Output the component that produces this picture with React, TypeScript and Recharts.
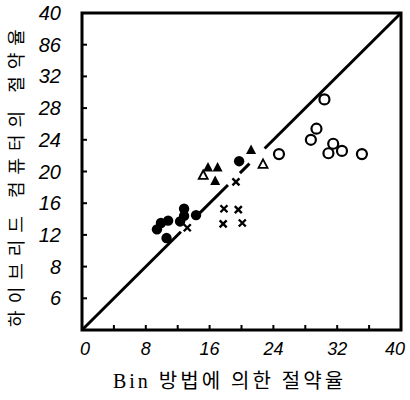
import React from 'react';
import { ScatterChart, Scatter, XAxis, YAxis, ReferenceLine, ReferenceArea, Label } from 'recharts';

const axisTicks = [0, 4, 8, 12, 16, 20, 24, 28, 32, 36, 40];
const xTickLabels: Record<number, string> = { 0: '0', 8: '8', 16: '16', 24: '24', 32: '32', 40: '40' };
const yTickLabels: Record<number, string> = { 4: '6', 8: '8', 12: '12', 16: '16', 20: '20', 24: '24', 28: '28', 32: '32', 36: '86', 40: '40' };

const xTitle = 'Bin 방법에 의한 절약율';
const yTitle = '하이브리드 컴퓨터의 절약율';

const openCircles = [
  { x: 30.4, y: 29.1 }, { x: 29.4, y: 25.4 }, { x: 28.7, y: 24.0 }, { x: 31.5, y: 23.5 },
  { x: 30.9, y: 22.3 }, { x: 32.6, y: 22.6 }, { x: 35.1, y: 22.2 }, { x: 24.7, y: 22.2 },
];
const openTriangles = [{ x: 22.7, y: 20.9 }, { x: 15.2, y: 19.5 }];
const filledTriangles = [
  { x: 21.2, y: 22.7 }, { x: 15.8, y: 20.5 }, { x: 17.0, y: 20.5 }, { x: 16.7, y: 18.8 },
];
const filledCircles = [
  { x: 19.7, y: 21.3 }, { x: 14.3, y: 14.5 }, { x: 12.8, y: 15.3 }, { x: 12.8, y: 14.4 },
  { x: 12.3, y: 13.7 }, { x: 10.8, y: 13.8 }, { x: 9.9, y: 13.5 }, { x: 9.4, y: 12.7 }, { x: 10.6, y: 11.6 },
];
const crosses = [
  { x: 19.3, y: 18.7 }, { x: 17.8, y: 15.3 }, { x: 19.6, y: 15.2 }, { x: 17.7, y: 13.4 },
  { x: 20.1, y: 13.5 }, { x: 13.2, y: 12.9 },
];
// diagonal y = x, drawn in pieces (broken where the markers sit)
const diagonalSegments = [
  [0, 12.4], [14.5, 18.3], [19.8, 21.0], [22.9, 40],
];

const XTick = (props: any) => {
  const { x, y, payload } = props;
  const v = payload.value;
  const label = xTickLabels[v];
  const dx = v === 0 ? 3 : v === 40 ? -6 : 0;
  return (
    <g>
      {v > 0 && v < 40 && <line x1={x} x2={x} y1={y} y2={y - 5} stroke="#000" strokeWidth={2} />}
      {label !== undefined && (
        <text x={x + dx} y={y + 25} textAnchor="middle" fontStyle="italic" fontSize={18}
          fontFamily="'Liberation Sans', Arial, sans-serif" fill="#000">{label}</text>
      )}
    </g>
  );
};

const YTick = (props: any) => {
  const { x, y, payload } = props;
  const v = payload.value;
  const label = yTickLabels[v];
  return (
    <g>
      {v > 0 && v < 40 && <line x1={x} x2={x + 5} y1={y} y2={y} stroke="#000" strokeWidth={2} />}
      {label !== undefined && (
        <text x={x - 21} y={y} textAnchor="end" dominantBaseline="central" fontStyle="italic" fontSize={20}
          fontFamily="'Liberation Sans', Arial, sans-serif" fill="#000">{label}</text>
      )}
    </g>
  );
};

const OpenCircle = (p: any) => <circle cx={p.cx} cy={p.cy} r={5} fill="#fff" stroke="#000" strokeWidth={2.2} />;
const FilledCircle = (p: any) => <circle cx={p.cx} cy={p.cy} r={5.2} fill="#000" />;
const FilledTriangle = (p: any) => (
  <path d={`M${p.cx},${p.cy - 5.5} L${p.cx + 5},${p.cy + 4} L${p.cx - 5},${p.cy + 4} Z`} fill="#000" />
);
const OpenTriangle = (p: any) => (
  <path d={`M${p.cx},${p.cy - 5} L${p.cx + 4.5},${p.cy + 3.5} L${p.cx - 4.5},${p.cy + 3.5} Z`} fill="#fff" stroke="#000" strokeWidth={1.8} />
);
const Cross = (p: any) => (
  <path d={`M${p.cx - 3.5},${p.cy - 3.5} L${p.cx + 3.5},${p.cy + 3.5} M${p.cx + 3.5},${p.cy - 3.5} L${p.cx - 3.5},${p.cy + 3.5}`}
    stroke="#000" strokeWidth={2.4} />
);

const XTitle = (props: any) => {
  const vb = props.viewBox;
  return (
    <text x={vb.x + vb.width / 2 - 12} y={vb.y + 58} textAnchor="middle" fontSize={20} letterSpacing={3}
      fontFamily="'Liberation Serif', 'Noto Sans CJK KR', serif" fill="#000">{xTitle}</text>
  );
};

const YTitle = (props: any) => {
  const vb = props.viewBox;
  const cx = 15;
  const cy = vb.y + vb.height / 2 + 3;
  return (
    <text x={cx} y={cy} transform={`rotate(-90, ${cx}, ${cy})`} textAnchor="middle" dominantBaseline="central"
      fontSize={18} letterSpacing={7} fontFamily="'Noto Sans CJK KR', sans-serif" fill="#000">{yTitle}</text>
  );
};

export default function App() {
  return (
    <div style={{ position: 'absolute', left: 0, top: 0, background: '#fff' }}>
      <ScatterChart width={410} height={400} margin={{ top: 13, right: 9, bottom: 0, left: 0 }}>
        <XAxis dataKey="x" type="number" domain={[0, 40]} ticks={axisTicks} interval={0}
          axisLine={false} tickLine={false} tickSize={0} tickMargin={0} height={70} tick={<XTick />}
          allowDataOverflow>
          <Label content={<XTitle />} />
        </XAxis>
        <YAxis dataKey="y" type="number" domain={[0, 40]} ticks={axisTicks} interval={0}
          axisLine={false} tickLine={false} tickSize={0} tickMargin={0} width={82} tick={<YTick />}
          allowDataOverflow>
          <Label content={<YTitle />} />
        </YAxis>
        <ReferenceArea x1={0} x2={40} y1={0} y2={40} fill="none" fillOpacity={0} stroke="#000" strokeWidth={3} />
        {diagonalSegments.map((s, i) => (
          <ReferenceLine key={i} segment={[{ x: s[0], y: s[0] }, { x: s[1], y: s[1] }]} stroke="#000" strokeWidth={3} />
        ))}
        <Scatter data={openCircles} shape={<OpenCircle />} isAnimationActive={false} />
        <Scatter data={openTriangles} shape={<OpenTriangle />} isAnimationActive={false} />
        <Scatter data={filledTriangles} shape={<FilledTriangle />} isAnimationActive={false} />
        <Scatter data={filledCircles} shape={<FilledCircle />} isAnimationActive={false} />
        <Scatter data={crosses} shape={<Cross />} isAnimationActive={false} />
      </ScatterChart>
    </div>
  );
}
